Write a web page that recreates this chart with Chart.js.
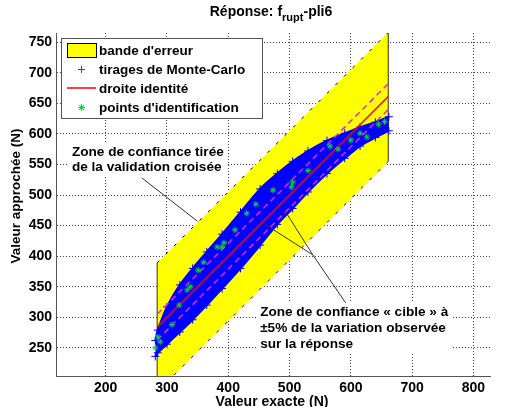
<!DOCTYPE html>
<html>
<head>
<meta charset="utf-8">
<script src="https://cdn.jsdelivr.net/npm/chart.js@4.4.0/dist/chart.umd.min.js"></script>
<style>
  html, body { margin: 0; padding: 0; background: #fff; }
</style>
</head>
<body>
<canvas id="graphe" width="506" height="407"></canvas>
<script>
// bornes de la bande d'erreur / droite identité (valeur exacte)
const bornesX = [284, 661];
const bandeHaut = [389, 766];
const bandeBas = [178, 555];
const identite = [284, 661];
const cibleHaut = [305, 682];
const cibleBas = [263, 640];

// enveloppe du nuage de Monte-Carlo
const mcX = [281, 285, 300, 321, 342, 365, 390, 420, 452, 480, 505, 530, 561, 590, 615, 640, 662];
const mcHaut = [262, 279, 317, 353, 380, 407, 436, 472, 510, 535, 555, 572, 589, 601, 611, 619, 628];
const mcBas = [236, 242, 256, 276, 296, 320, 347, 380, 418, 452, 478, 505, 535, 560, 580, 594, 605];

// points d'identification
const idX = [281, 285, 289, 308, 320, 333, 338, 351, 360, 382, 390, 393, 411, 430, 445, 473, 503, 505, 530, 566, 579, 600, 615, 626, 645, 655];
const idY = [250, 268, 260, 288, 320, 345, 350, 377, 390, 415, 415, 422, 443, 470, 485, 508, 513, 521, 540, 580, 575, 590, 601, 595, 616, 620];

const ticksX = [200, 300, 400, 500, 600, 700, 800];
const ticksY = [250, 300, 350, 400, 450, 500, 550, 600, 650, 700, 750];

const POLICE = "'Liberation Sans', Arial, Helvetica, sans-serif";

function pts(xs, ys) {
    return xs.map((x, i) => ({ x: x, y: ys[i] }));
}

const decor = {
    id: "decor",
    afterDatasetsDraw(chart) {
        const ctx = chart.ctx;
        const sx = chart.scales.x;
        const sy = chart.scales.y;
        const P = (x, y) => [sx.getPixelForValue(x), sy.getPixelForValue(y)];
        ctx.save();
        ctx.strokeStyle = "#333";
        ctx.lineWidth = 1;
        const traits = [
            [[259, 528], [350, 457]],
            [[457, 454], [538, 402]],
            [[492, 475], [538, 402]],
            [[538, 402], [594, 320]]
        ];
        traits.forEach(([a, b]) => {
            const p1 = P(a[0], a[1]);
            const p2 = P(b[0], b[1]);
            ctx.beginPath();
            ctx.moveTo(p1[0], p1[1]);
            ctx.lineTo(p2[0], p2[1]);
            ctx.stroke();
        });

        // zones de texte avec fond blanc
        ctx.font = "bold 13.6px " + POLICE;
        ctx.textBaseline = "middle";
        ctx.textAlign = "left";
        const blocs = [
            { x: 145, y: 570, lignes: ["Zone de confiance tirée", "de la validation croisée"], pas: 15 },
            { x: 452, y: 309, lignes: ["Zone de confiance « cible » à", "±5% de la variation observée", "sur la réponse"], pas: 16 }
        ];
        blocs.forEach((b) => {
            const p = P(b.x, b.y);
            let w = 0;
            b.lignes.forEach((l) => { w = Math.max(w, ctx.measureText(l).width); });
            ctx.fillStyle = "#fff";
            ctx.fillRect(p[0] - 4, p[1] - 9, w + 8, b.pas * (b.lignes.length - 1) + 18);
            ctx.fillStyle = "#000";
            b.lignes.forEach((l, i) => ctx.fillText(l, p[0], p[1] + i * b.pas));
        });
        ctx.restore();
    },
    afterDraw(chart) {
        const ctx = chart.ctx;
        ctx.save();
        ctx.fillStyle = "#000";
        ctx.textBaseline = "alphabetic";

        // titre avec indice
        const t1 = "Réponse: f", t2 = "rupt", t3 = "-pli6";
        ctx.font = "bold 14px " + POLICE;
        const w1 = ctx.measureText(t1).width;
        const w3 = ctx.measureText(t3).width;
        ctx.font = "bold 11px " + POLICE;
        const w2 = ctx.measureText(t2).width;
        let x0 = 271 - (w1 + w2 + w3) / 2;
        ctx.textAlign = "left";
        ctx.font = "bold 14px " + POLICE;
        ctx.fillText(t1, x0, 16);
        ctx.font = "bold 11px " + POLICE;
        ctx.fillText(t2, x0 + w1, 21);
        ctx.font = "bold 14px " + POLICE;
        ctx.fillText(t3, x0 + w1 + w2, 16);

        // titres des axes
        ctx.font = "bold 14px " + POLICE;
        ctx.textAlign = "center";
        ctx.textBaseline = "middle";
        ctx.fillText("Valeur exacte (N)", 272, 402);
        ctx.save();
        ctx.translate(16, 196);
        ctx.rotate(-Math.PI / 2);
        ctx.font = "bold 13.5px " + POLICE;
        ctx.fillText("Valeur approchée (N)", 0, 0);
        ctx.restore();

        // légende
        const lx = 61, ly = 38, lw = 201, lh = 80;
        ctx.fillStyle = "#fff";
        ctx.fillRect(lx, ly, lw, lh);
        ctx.strokeStyle = "#555";
        ctx.lineWidth = 1;
        ctx.strokeRect(lx + 0.5, ly + 0.5, lw, lh);

        const rangs = [50, 69, 88, 107];
        ctx.fillStyle = "#ffff00";
        ctx.fillRect(67, 43, 29, 14);
        ctx.strokeStyle = "#000";
        ctx.strokeRect(67.5, 43.5, 29, 14);

        ctx.strokeStyle = "#3333ff";
        ctx.beginPath();
        ctx.moveTo(78, rangs[1] + 0.5); ctx.lineTo(85, rangs[1] + 0.5);
        ctx.moveTo(81.5, rangs[1] - 3); ctx.lineTo(81.5, rangs[1] + 4);
        ctx.stroke();

        ctx.strokeStyle = "#ff0000";
        ctx.lineWidth = 1.5;
        ctx.beginPath();
        ctx.moveTo(67, rangs[2]); ctx.lineTo(96, rangs[2]);
        ctx.stroke();

        ctx.strokeStyle = "#00dd33";
        ctx.lineWidth = 1;
        ctx.beginPath();
        ctx.moveTo(78, rangs[3] + 0.5); ctx.lineTo(85, rangs[3] + 0.5);
        ctx.moveTo(81.5, rangs[3] - 3); ctx.lineTo(81.5, rangs[3] + 4);
        ctx.moveTo(79, rangs[3] - 2); ctx.lineTo(84, rangs[3] + 3);
        ctx.moveTo(84, rangs[3] - 2); ctx.lineTo(79, rangs[3] + 3);
        ctx.stroke();

        ctx.fillStyle = "#000";
        ctx.font = "bold 13.5px " + POLICE;
        ctx.textAlign = "left";
        ctx.textBaseline = "middle";
        const noms = chart.data.datasets.filter((d) => d.legende).sort((a, b) => a.legende - b.legende);
        noms.forEach((d, i) => ctx.fillText(d.label, 99, rangs[i] + 1));
        ctx.restore();
    }
};

const ctx = document.getElementById("graphe").getContext("2d");

new Chart(ctx, {
    type: "scatter",
    data: {
        datasets: [
            {
                label: "points d'identification",
                legende: 4,
                data: pts(idX, idY),
                pointStyle: "star",
                pointRadius: 3,
                borderColor: "#00dd33",
                backgroundColor: "#00dd33",
                borderWidth: 1,
                order: 0
            },
            {
                label: "droite identité",
                legende: 3,
                data: pts(bornesX, identite),
                showLine: true,
                borderColor: "#ff0000",
                borderWidth: 1.5,
                pointRadius: 0,
                order: 1
            },
            {
                label: "cible haut",
                data: pts(bornesX, cibleHaut),
                showLine: true,
                borderColor: "#ee22dd",
                borderWidth: 1.5,
                borderDash: [6, 4],
                pointRadius: 0,
                order: 2
            },
            {
                label: "cible bas",
                data: pts(bornesX, cibleBas),
                showLine: true,
                borderColor: "#ee22dd",
                borderWidth: 1.5,
                borderDash: [6, 4],
                pointRadius: 0,
                order: 2
            },
            {
                label: "tirages de Monte-Carlo",
                legende: 2,
                data: pts(mcX, mcHaut),
                showLine: true,
                tension: 0.3,
                borderColor: "#0000ff",
                borderWidth: 2,
                pointStyle: "cross",
                pointRadius: 4,
                pointBorderColor: "#0000ff",
                pointBorderWidth: 1,
                fill: false,
                order: 3
            },
            {
                label: "mc bas",
                data: pts(mcX, mcBas),
                showLine: true,
                tension: 0.3,
                borderColor: "#0000ff",
                borderWidth: 2,
                backgroundColor: "#0000ff",
                pointStyle: "cross",
                pointRadius: 4,
                pointBorderColor: "#0000ff",
                pointBorderWidth: 1,
                fill: { target: 4 },
                order: 3
            },
            {
                label: "bord gauche",
                data: [{ x: bornesX[0], y: bandeBas[0] }, { x: bornesX[0], y: bandeHaut[0] }],
                showLine: true,
                borderColor: "#333300",
                borderWidth: 1,
                pointRadius: 0,
                order: 4
            },
            {
                label: "bord droit",
                data: [{ x: bornesX[1], y: bandeBas[1] }, { x: bornesX[1], y: bandeHaut[1] }],
                showLine: true,
                borderColor: "#333300",
                borderWidth: 1,
                pointRadius: 0,
                order: 4
            },
            {
                label: "bande d'erreur",
                legende: 1,
                data: pts(bornesX, bandeHaut),
                showLine: true,
                borderColor: "#000",
                borderWidth: 1,
                borderDash: [3, 9],
                pointRadius: 0,
                fill: false,
                order: 5
            },
            {
                label: "bande bas",
                data: pts(bornesX, bandeBas),
                showLine: true,
                borderColor: "#000",
                borderWidth: 1,
                borderDash: [3, 9],
                backgroundColor: "#ffff00",
                pointRadius: 0,
                fill: { target: 8 },
                order: 5
            }
        ]
    },
    options: {
        responsive: false,
        animation: false,
        devicePixelRatio: 1,
        layout: { padding: { top: 33, right: 16, left: 0, bottom: 0 } },
        scales: {
            x: {
                type: "linear",
                min: 119,
                max: 827,
                afterBuildTicks: (s) => { s.ticks = ticksX.map((v) => ({ value: v })); },
                afterFit: (s) => { s.height = 31; },
                ticks: {
                    color: "#000",
                    padding: 4,
                    font: { size: 14, weight: "bold", family: POLICE }
                },
                grid: { color: "#444", lineWidth: 1, drawTicks: false },
                border: { display: true, color: "#555", width: 1, dash: [1, 2] }
            },
            y: {
                type: "linear",
                min: 204,
                max: 765,
                afterBuildTicks: (s) => { s.ticks = ticksY.map((v) => ({ value: v })); },
                afterFit: (s) => { s.width = 56; },
                ticks: {
                    color: "#000",
                    padding: 4,
                    font: { size: 14, weight: "bold", family: POLICE }
                },
                grid: { color: "#444", lineWidth: 1, drawTicks: false },
                border: { display: true, color: "#555", width: 1, dash: [1, 2] }
            }
        },
        plugins: {
            legend: { display: false },
            tooltip: { enabled: false },
            title: { display: false }
        }
    },
    plugins: [decor]
});
</script>
</body>
</html>
